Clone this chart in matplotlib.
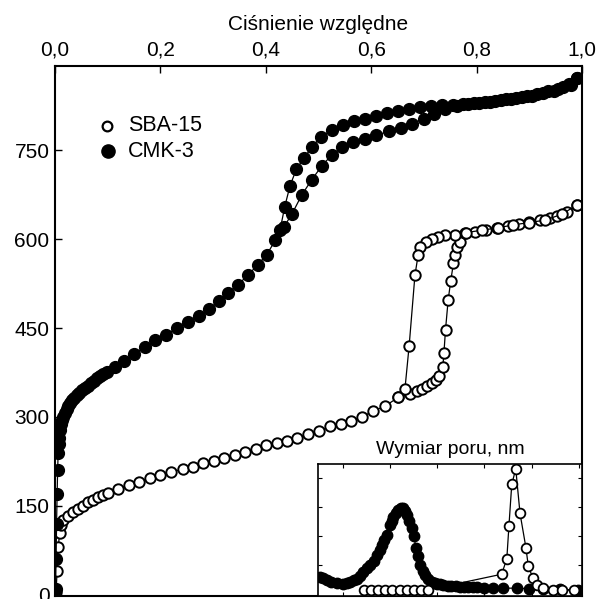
import matplotlib
matplotlib.use("Agg")
import matplotlib.pyplot as plt

plt.rcParams['font.family'] = ['Liberation Sans', 'DejaVu Sans']

# --- main isotherms: relative pressure vs adsorbed volume ---
sba_ads_p = [0.002, 0.004, 0.006, 0.009, 0.012, 0.016, 0.025, 0.035, 0.044, 0.054, 0.063,
             0.073, 0.082, 0.092, 0.101, 0.12, 0.14, 0.16, 0.18, 0.20, 0.221, 0.242, 0.262,
             0.281, 0.302, 0.321, 0.342, 0.36, 0.381, 0.40, 0.421, 0.441, 0.46, 0.481, 0.50,
             0.522, 0.542, 0.561, 0.582, 0.604, 0.626, 0.651, 0.674, 0.686, 0.696, 0.705,
             0.715, 0.723, 0.729, 0.736, 0.738, 0.741, 0.746, 0.751, 0.756, 0.759, 0.762,
             0.768, 0.778, 0.797, 0.817, 0.838, 0.86, 0.881, 0.90, 0.92, 0.939, 0.953,
             0.971, 0.991]
sba_ads_v = [5, 40, 80, 105, 118, 126, 133, 139, 144, 150, 156,
             160, 165, 168, 172, 179, 185, 191, 197, 202, 207, 212, 216,
             222, 226, 231, 236, 241, 246, 252, 256, 260, 265, 271, 276,
             284, 288, 294, 300, 310, 318, 333, 339, 344, 348, 352,
             357, 362, 369, 385, 408, 447, 497, 530, 559, 573, 587,
             595, 610, 612, 615, 618, 622, 625, 629, 632, 635, 639,
             646, 658]
sba_des_p = [0.991, 0.962, 0.93, 0.90, 0.87, 0.84, 0.81, 0.78, 0.759, 0.74, 0.727, 0.715,
             0.704, 0.693, 0.689, 0.683, 0.672, 0.664, 0.651]
sba_des_v = [658, 642, 632, 628, 624, 619, 615, 611, 607, 607, 604, 601,
             595, 587, 573, 539, 420, 347, 333]

cmk_ads_p = [0.001, 0.002, 0.003, 0.004, 0.005, 0.006, 0.007, 0.008, 0.010, 0.012, 0.014,
             0.016, 0.019, 0.022, 0.025, 0.028, 0.032, 0.036, 0.041, 0.046, 0.051, 0.056,
             0.062, 0.068, 0.074, 0.080, 0.086, 0.092, 0.098, 0.113, 0.131, 0.15, 0.17,
             0.19, 0.211, 0.232, 0.252, 0.273, 0.293, 0.311, 0.328, 0.347, 0.366, 0.385,
             0.402, 0.418, 0.434, 0.45, 0.468, 0.487, 0.506, 0.525, 0.545, 0.566, 0.588,
             0.61, 0.633, 0.656, 0.678, 0.70, 0.72, 0.74, 0.762, 0.783, 0.804, 0.825, 0.846,
             0.866, 0.886, 0.906, 0.926, 0.946, 0.964, 0.979, 0.99]
cmk_ads_v = [10, 60, 120, 170, 210, 240, 255, 265, 278, 288, 295,
             300, 307, 313, 318, 323, 328, 332, 337, 341, 345, 349,
             353, 357, 361, 366, 369, 372, 375, 385, 395, 406, 418,
             429, 439, 450, 460, 470, 482, 496, 509, 523, 539, 557,
             574, 598, 620, 643, 674, 700, 723, 742, 755, 764, 769,
             775, 782, 788, 795, 803, 811, 819, 824, 828, 830, 832, 834,
             836, 839, 842, 846, 850, 856, 860, 871]
cmk_des_p = [0.99, 0.975, 0.955, 0.935, 0.915, 0.895, 0.875, 0.855, 0.835, 0.815, 0.795,
             0.775, 0.755, 0.735, 0.714, 0.693, 0.672, 0.651, 0.63, 0.609, 0.588, 0.567,
             0.546, 0.525, 0.505, 0.488, 0.472, 0.458, 0.446, 0.436, 0.427]
cmk_des_v = [871, 861, 853, 849, 845, 842, 838, 836, 833, 831, 829,
             828, 827, 826, 825, 823, 819, 816, 812, 808, 803, 799,
             792, 784, 773, 756, 736, 718, 690, 655, 615]

# --- inset: pore size distribution ---
sba_psd_d = [2.9, 3.2, 3.5, 3.8, 4.1, 4.4, 4.7, 5.0, 5.3, 5.6, 8.73, 8.95, 9.04, 9.16,
             9.33, 9.51, 9.76, 9.86, 10.05, 10.24, 10.5, 10.9, 11.3, 11.8]
sba_psd_v = [0.14, 0.14, 0.15, 0.14, 0.15, 0.14, 0.15, 0.14, 0.15, 0.14, 0.68, 1.21, 2.34, 3.78,
             4.31, 2.78, 1.6, 0.97, 0.56, 0.31, 0.21, 0.14, 0.14, 0.12]
cmk_psd_d = [1.02, 1.15, 1.31, 1.5, 1.73, 2.0, 2.15, 2.30, 2.45, 2.58, 2.72, 2.86, 3.0, 3.15,
             3.3, 3.43, 3.55, 3.64, 3.75, 3.86, 4.0, 4.07, 4.14, 4.25, 4.35, 4.45, 4.56,
             4.65, 4.73, 4.82, 4.92, 5.0, 5.1, 5.18, 5.27, 5.38, 5.48, 5.6, 5.76, 5.9, 6.0,
             6.13, 6.26, 6.45, 6.6, 6.8, 6.96, 7.15, 7.3, 7.5, 7.67, 8.0, 8.36, 8.8, 9.37,
             9.9, 10.49, 11.2, 11.97]
cmk_psd_v = [0.6, 0.55, 0.48, 0.42, 0.38, 0.36, 0.38, 0.42, 0.47, 0.52, 0.62, 0.77, 0.88, 1.0,
             1.15, 1.34, 1.5, 1.69, 1.85, 2.03, 2.38, 2.52, 2.67, 2.8, 2.9, 2.95, 2.96,
             2.85, 2.72, 2.5, 2.27, 2.0, 1.58, 1.3, 1.0, 0.8, 0.66, 0.52, 0.42, 0.38, 0.36,
             0.33, 0.31, 0.29, 0.28, 0.26, 0.25, 0.24, 0.23, 0.24, 0.25, 0.22, 0.22, 0.2, 0.2,
             0.18, 0.17, 0.16, 0.14]

x_ticks = [0.0, 0.2, 0.4, 0.6, 0.8, 1.0]
x_ticklabels = ['0,0', '0,2', '0,4', '0,6', '0,8', '1,0']
y_ticks = [0, 150, 300, 450, 600, 750]

fig = plt.figure(figsize=(5.97, 5.99), dpi=100)
ax = fig.add_axes([55 / 597, 3 / 599, 527 / 597, 530 / 599])

open_kw = dict(color='black', lw=0.9, marker='o', ms=7.5, mfc='white', mec='black', mew=1.4)
fill_kw = dict(color='black', lw=0.9, marker='o', ms=8.5, mfc='black', mec='black')

ax.plot(sba_ads_p, sba_ads_v, **open_kw)
ax.plot(sba_des_p, sba_des_v, **open_kw)
ax.plot(cmk_ads_p, cmk_ads_v, **fill_kw)
ax.plot(cmk_des_p, cmk_des_v, **fill_kw)

ax.set_xlim(0, 1)
ax.set_ylim(-2, 892)
ax.xaxis.tick_top()
ax.xaxis.set_label_position('top')
ax.set_xticks(x_ticks)
ax.set_xticklabels(x_ticklabels)
ax.set_yticks(y_ticks)
ax.set_xlabel('Ciśnienie względne', fontsize=15, labelpad=7)
ax.tick_params(axis='both', direction='in', length=5, width=1, labelsize=15)
ax.tick_params(axis='x', pad=5)
ax.tick_params(axis='y', pad=4)
for s in ax.spines.values():
    s.set_linewidth(1.5)

# legend, drawn as marker + text
ax.plot([0.099], [791], ls='none', marker='o', ms=7, mfc='white', mec='black', mew=1.6)
ax.plot([0.101], [748], ls='none', marker='o', ms=9.5, mfc='black', mec='black')
ax.text(0.138, 791, 'SBA-15', fontsize=15.5, va='center')
ax.text(0.138, 748, 'CMK-3', fontsize=15.5, va='center')

# inset
ins = fig.add_axes([318 / 597, 3 / 599, 264 / 597, 132 / 599])
ins.plot(cmk_psd_d, cmk_psd_v, color='black', lw=0.9, marker='o', ms=7.5, mfc='black', mec='black')
ins.plot(sba_psd_d, sba_psd_v, color='black', lw=0.9, marker='o', ms=7, mfc='white',
         mec='black', mew=1.3)
ins.set_xlim(0.94, 12.14)
ins.set_ylim(-0.07, 4.48)
ins.set_xticks([2, 4, 6, 8, 10, 12])
ins.set_yticks([1, 2, 3, 4])
ins.tick_params(direction='in', length=3, top=True, right=True,
                labelbottom=False, labelleft=False)
for s in ins.spines.values():
    s.set_linewidth(1.2)
ins.set_title('Wymiar poru, nm', fontsize=14, pad=7)

fig.savefig('out.png', dpi=100)
